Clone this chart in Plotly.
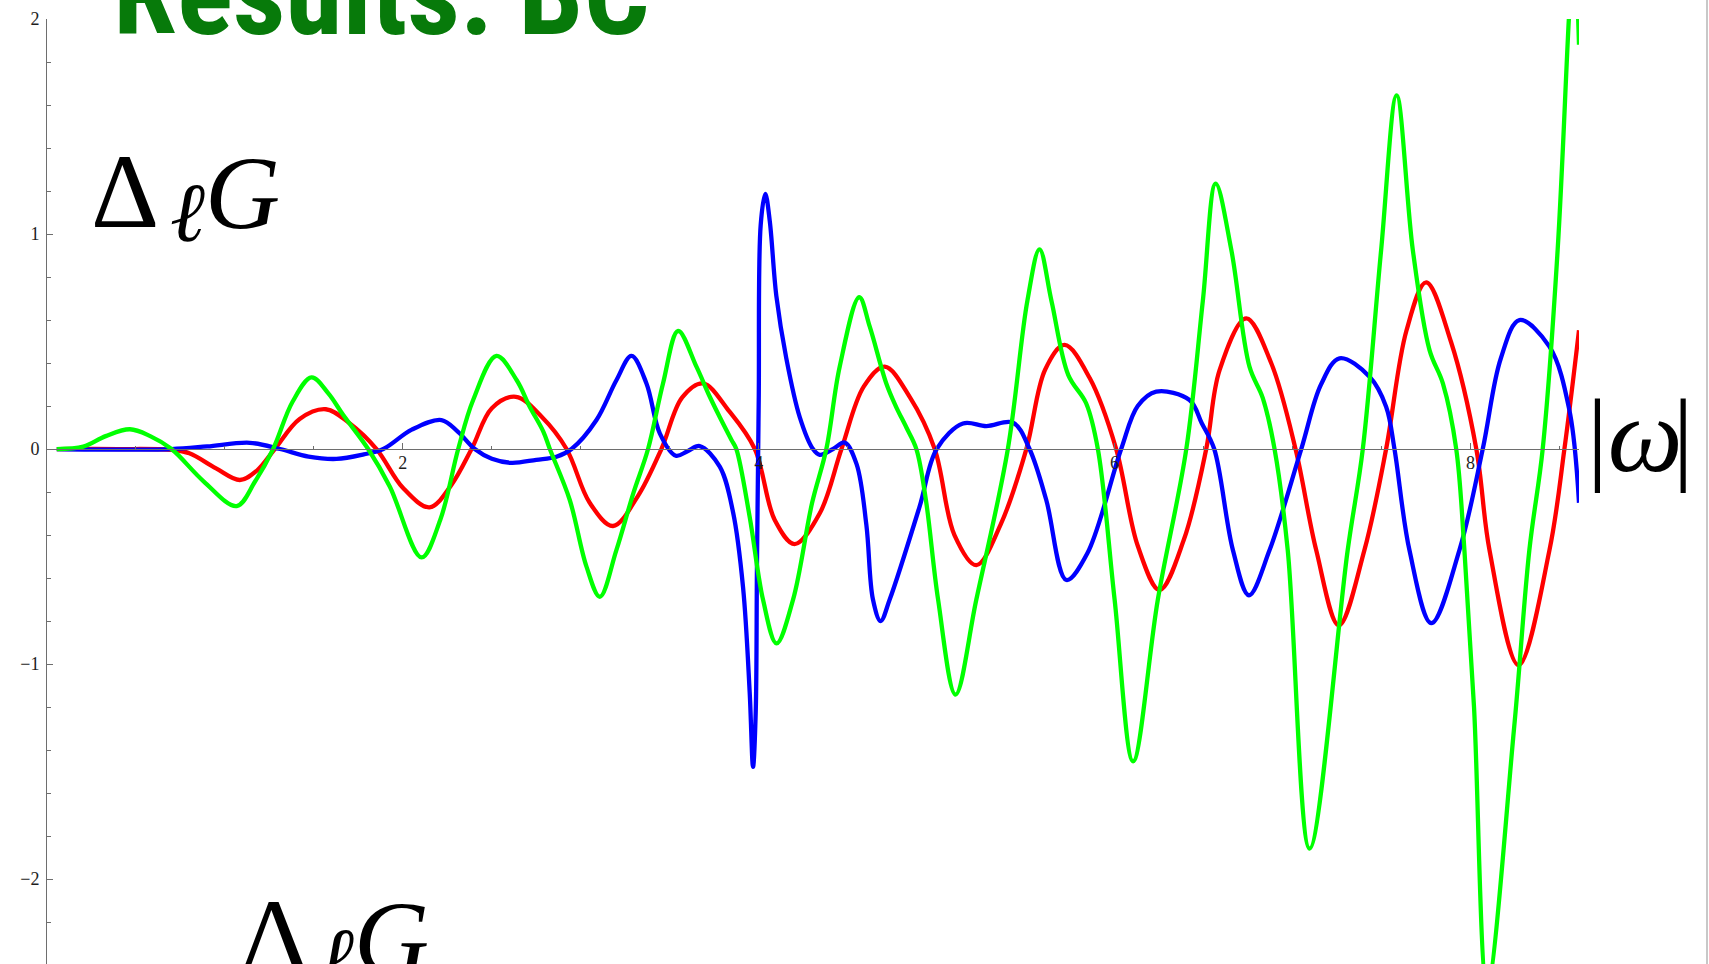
import plotly.graph_objects as go

# ---------------- data ----------------
red_x = [0.055, 0.40, 0.70, 0.80, 0.95, 1.084, 1.18, 1.28, 1.42, 1.567, 1.70, 1.852,
         2.00, 2.15, 2.27, 2.386, 2.50, 2.635, 2.78, 2.92, 3.05, 3.181, 3.32, 3.453,
         3.57, 3.687, 3.83, 3.978, 4.09, 4.202, 4.343, 4.465, 4.59, 4.708, 4.85, 4.989,
         5.10, 5.223, 5.36, 5.504, 5.61, 5.719, 5.86, 6.009, 6.13, 6.253, 6.39, 6.515,
         6.59, 6.74, 6.88, 7.017, 7.133, 7.26, 7.404, 7.526, 7.64, 7.751, 7.89, 8.033,
         8.107, 8.27, 8.444, 8.528, 8.61]
red_y = [0.0, 0.0, -0.004, -0.02, -0.09, -0.144, -0.10, 0.0, 0.14, 0.185, 0.12, 0.0,
         -0.18, -0.271, -0.17, 0.0, 0.19, 0.243, 0.15, 0.0, -0.25, -0.358, -0.22, 0.0,
         0.24, 0.305, 0.18, 0.0, -0.33, -0.442, -0.299, 0.0, 0.29, 0.383, 0.24, 0.0,
         -0.40, -0.54, -0.35, 0.0, 0.37, 0.484, 0.33, 0.0, -0.45, -0.656, -0.42, 0.0,
         0.367, 0.608, 0.40, 0.0, -0.47, -0.82, -0.47, 0.0, 0.55, 0.775, 0.50, 0.0,
         -0.47, -1.005, -0.47, 0.0, 0.553]

blue_x = [0.055, 0.40, 0.70, 0.90, 1.14, 1.31, 1.47, 1.627, 1.78, 1.89, 2.05, 2.217,
          2.31, 2.404, 2.50, 2.61, 2.75, 2.863, 2.948, 3.088, 3.20, 3.285, 3.369, 3.444,
          3.534, 3.60, 3.668, 3.781, 3.856, 3.912, 3.949, 3.968, 3.983, 3.99, 4.0, 4.011,
          4.037, 4.062, 4.099, 4.155, 4.23, 4.305, 4.343, 4.418, 4.483, 4.55, 4.605,
          4.642, 4.685, 4.736, 4.904, 5.0, 5.148, 5.279, 5.43, 5.522, 5.616, 5.729, 5.847,
          6.037, 6.13, 6.234, 6.421, 6.49, 6.56, 6.665, 6.755, 6.871, 7.049, 7.16, 7.264,
          7.433, 7.526, 7.573, 7.657, 7.78, 7.938, 8.069, 8.17, 8.275, 8.444, 8.556, 8.61]
blue_y = [0.0, -0.003, 0.0, 0.012, 0.029, 0.0, -0.035, -0.046, -0.025, 0.0, 0.09, 0.135,
          0.08, 0.0, -0.045, -0.064, -0.05, -0.036, 0.0, 0.135, 0.32, 0.433, 0.305, 0.073,
          -0.031, -0.01, 0.014, -0.082, -0.295, -0.644, -1.129, -1.478, -1.226, -0.547, 0.228, 1.042,
          1.187, 1.061, 0.712, 0.422, 0.15, 0.0, -0.027, 0.0, 0.03, -0.07, -0.353,
          -0.70, -0.80, -0.70, -0.268, 0.0, 0.119, 0.107, 0.122, 0.0, -0.237, -0.609, -0.485,
          0.0, 0.20, 0.267, 0.228, 0.12, 0.0, -0.47, -0.68, -0.47, 0.0, 0.30, 0.422,
          0.336, 0.197, 0.0, -0.47, -0.81, -0.47, 0.0, 0.42, 0.60, 0.476, 0.181, -0.25]

green_x = [0.055, 0.204, 0.33, 0.466, 0.58, 0.70, 0.88, 1.066, 1.17, 1.271, 1.38, 1.487,
           1.58, 1.665, 1.805, 1.927, 2.105, 2.21, 2.311, 2.395, 2.526, 2.64, 2.713, 2.79,
           2.826, 2.938, 3.032, 3.107, 3.20, 3.295, 3.378, 3.462, 3.547, 3.65, 3.725, 3.78,
           3.847, 3.874, 3.949, 4.024, 4.10, 4.193, 4.30, 4.38, 4.455, 4.565, 4.624, 4.717,
           4.77, 4.83, 4.886, 4.94, 5.008, 5.106, 5.223, 5.40, 5.51, 5.578, 5.645, 5.74,
           5.84, 5.906, 6.0, 6.104, 6.243, 6.403, 6.496, 6.568, 6.656, 6.758, 6.833, 6.899,
           6.973, 7.096, 7.31, 7.395, 7.498, 7.585, 7.676, 7.77, 7.845, 7.92, 7.966, 8.02,
           8.094, 8.245, 8.331, 8.406, 8.49, 8.553, 8.578, 8.60, 8.61]
green_y = [0.0, 0.011, 0.06, 0.092, 0.06, 0.0, -0.15, -0.265, -0.15, 0.0, 0.22, 0.333,
           0.26, 0.158, 0.0, -0.175, -0.504, -0.33, 0.0, 0.228, 0.433, 0.32, 0.197, 0.08,
           0.0, -0.237, -0.547, -0.687, -0.47, -0.206, 0.0, 0.305, 0.549, 0.383, 0.243, 0.15,
           0.042, 0.0, -0.315, -0.70, -0.904, -0.70, -0.25, 0.0, 0.383, 0.706, 0.569, 0.305,
           0.20, 0.10, 0.0, -0.24, -0.70, -1.142, -0.70, 0.0, 0.69, 0.929, 0.69, 0.344,
           0.213, 0.0, -0.70, -1.452, -0.70, 0.0, 0.69, 1.234, 0.926, 0.383, 0.237, 0.0,
           -0.47, -1.858, -0.47, 0.0, 0.926, 1.645, 0.926, 0.46, 0.305, 0.0, -0.47, -1.2,
           -2.5, -1.3, -0.47, 0.0, 0.926, 2.0, 2.35, 2.1, 1.88]

xtick_vals = [2, 4, 6, 8]
xtick_text = ["2", "4", "6", "8"]
ytick_vals = [-2, -1, 0, 1, 2]
ytick_text = ["\u22122", "\u22121", "0", "1", "2"]

title_text = "<b>Results: BC</b>"
ylabel_delta = "\u0394"
ylabel_ell = "<i>\u2113</i>"
ylabel_g = "<i>G</i>"
xlabel_text = ("<span style='font-size:104px'>|</span>"
               "<span style='letter-spacing:-10px'><i>\u03c9</i></span>"
               "<span style='font-size:104px'>|</span>")

# ---------------- layout geometry ----------------
W, H = 1709, 964
ML, MR, MT, MB = 47, 130, 19, 0
XR = [0, 8.61]
YR = [-2.395, 2.0]
PW = W - ML - MR
PH = H - MT - MB


def px(xp):
    return (xp - ML) / PW


def py(yp):
    return (H - MB - yp) / PH


fig = go.Figure()
for xs, ys, col in [(red_x, red_y, "#ff0000"),
                    (blue_x, blue_y, "#0000ff"),
                    (green_x, green_y, "#00ff00")]:
    fig.add_trace(go.Scatter(x=xs, y=ys, mode="lines",
                             line=dict(color=col, width=4.3, shape="spline", smoothing=1.0),
                             hoverinfo="skip", showlegend=False))

axcol = "#6e6e6e"
tickfont = dict(family="Liberation Serif, Times New Roman, serif", size=18, color="#1e1e1e")

fig.update_layout(
    template="none",
    width=W, height=H,
    margin=dict(l=ML, r=MR, t=MT, b=MB, pad=0, autoexpand=False),
    paper_bgcolor="white", plot_bgcolor="white",
    showlegend=False,
)
fig.update_xaxes(
    automargin=False,
    range=XR, anchor="free", position=(0 - YR[0]) / (YR[1] - YR[0]),
    showline=True, linecolor=axcol, linewidth=1,
    ticks="inside", ticklen=6, tickwidth=1, tickcolor=axcol,
    tickmode="array", tickvals=xtick_vals, ticktext=xtick_text, tickfont=tickfont,
    ticklabelstandoff=-3,
    showgrid=False, zeroline=False,
    minor=dict(dtick=0.5, tick0=0, ticks="inside", ticklen=3.5, tickwidth=1,
               tickcolor=axcol, showgrid=False),
)
fig.update_yaxes(
    automargin=False,
    range=YR, showline=True, linecolor=axcol, linewidth=1,
    ticks="inside", ticklen=6, tickwidth=1, tickcolor=axcol,
    tickmode="array", tickvals=ytick_vals, ticktext=ytick_text, tickfont=tickfont,
    ticklabelstandoff=3,
    showgrid=False, zeroline=False,
    minor=dict(dtick=0.2, tick0=0, ticks="inside", ticklen=3.5, tickwidth=1,
               tickcolor=axcol, showgrid=False),
)

serif = "Liberation Serif, Times New Roman, serif"
ann = []
# title
ann.append(dict(text=title_text, x=px(111), y=py(64), xanchor="left", yanchor="bottom",
                font=dict(family="Roboto Condensed, Liberation Sans Narrow, Arial Narrow, Roboto, sans-serif",
                          size=116, color="#077a0a")))
# Delta_l G label (top) and its copy (bottom)
for (x0, base) in [(92, 228), (241, 973)]:
    ann.append(dict(text=ylabel_delta, x=px(x0 - 3), y=py(base + 24), xanchor="left",
                    yanchor="bottom", font=dict(family=serif, size=106, color="black")))
    ann.append(dict(text=ylabel_ell, x=px(x0 + 76), y=py(base + 13 + 20), xanchor="left",
                    yanchor="bottom", font=dict(family=serif, size=84, color="black")))
    ann.append(dict(text=ylabel_g, x=px(x0 + 111), y=py(base + 24), xanchor="left",
                    yanchor="bottom", font=dict(family=serif, size=104, color="black")))
# |omega| label
ann.append(dict(text=xlabel_text, x=px(1640), y=py(496), xanchor="center", yanchor="bottom",
                font=dict(family=serif, size=106, color="black")))
for a in ann:
    a.update(xref="paper", yref="paper", showarrow=False)
fig.update_layout(annotations=ann)

# slide border on the right
fig.add_shape(type="line", xref="paper", yref="paper", x0=px(1707), x1=px(1707), y0=py(H), y1=py(0),
              line=dict(color="#c8c8c8", width=2))

fig.write_html("out.html",
               config={"displayModeBar": False, "staticPlot": True},
               post_script="document.body.style.margin='0px';document.body.style.overflow='hidden';")
